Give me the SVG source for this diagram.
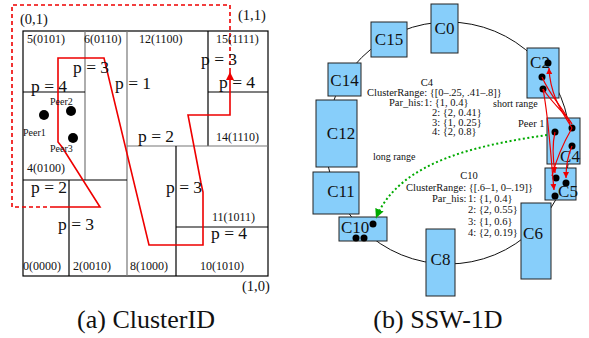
<svg xmlns="http://www.w3.org/2000/svg" width="589" height="338" viewBox="0 0 589 338">
<style>
text{font-family:"Liberation Serif","Times New Roman",serif;fill:#111}
.cell{font-size:12px}
.p{font-size:17.5px}
.peer{font-size:10px}
.coord{font-size:14.5px}
.gk{stroke:#000;stroke-width:1.2;fill:none}
.gg{stroke:#777;stroke-width:1.2;fill:none}
.box{fill:#87cefa;stroke:#222;stroke-width:1}
.lbl{font-size:17px;text-anchor:middle}
.sm{font-size:10.5px}
.ring{fill:none;stroke:#111;stroke-width:1}
.rc{fill:none;stroke:#e00;stroke-width:1.2}
.dot{fill:#000}
.cap{font-size:26px;text-anchor:middle}
</style>
<defs>
<marker id="ar" viewBox="0 0 8 8" refX="8" refY="4" markerWidth="8" markerHeight="8" markerUnits="userSpaceOnUse" orient="auto"><path d="M0,0 L8,4 L0,8 z" fill="#e00"/></marker>
<marker id="ars" viewBox="0 0 6 6" refX="6" refY="3" markerWidth="6" markerHeight="6" markerUnits="userSpaceOnUse" orient="auto"><path d="M0,0 L6,3 L0,6 z" fill="#e00"/></marker>
<marker id="ag" viewBox="0 0 8 8" refX="8" refY="4" markerWidth="9" markerHeight="9" markerUnits="userSpaceOnUse" orient="auto"><path d="M0,0 L8,4 L0,8 z" fill="#0a0"/></marker>
</defs>

<!-- (a) ClusterID -->
<g id="panel-a">
<g id="grid">
<rect x="23" y="31" width="245" height="245" class="gk"/>
<line x1="85" y1="31" x2="85" y2="180" class="gg"/>
<line x1="127" y1="31" x2="127" y2="276" class="gg"/>
<line x1="23" y1="92" x2="85" y2="92" class="gk"/>
<line x1="23" y1="180" x2="127" y2="180" class="gk"/>
<line x1="69" y1="180" x2="69" y2="276" class="gk"/>
<line x1="208" y1="31" x2="208" y2="146" class="gk"/>
<line x1="208" y1="92" x2="268" y2="92" class="gk"/>
<line x1="127" y1="146" x2="268" y2="146" class="gg"/>
<line x1="176" y1="146" x2="176" y2="276" class="gk"/>
<line x1="176" y1="227" x2="268" y2="227" class="gk"/>
</g>
<g id="route">
<path d="M230,72 V5 H12 V207 H50" fill="none" stroke="#e00" stroke-width="1.6" stroke-dasharray="4,3"/>
<path d="M50,207 H100 L62,147 L58,142 V58 H104 L149,245 H203 V192 L201,183 L188,115 H230 V72" fill="none" stroke="#e00" stroke-width="1.6" marker-end="url(#ar)"/>
</g>
<g id="cells">
<text x="20" y="24" class="coord">(0,1)</text>
<text x="238" y="20" class="coord">(1,1)</text>
<text x="242" y="291" class="coord">(1,0)</text>
<text x="27" y="43" class="cell">5(0101)</text>
<text x="84" y="43" class="cell">6(0110)</text>
<text x="139" y="43" class="cell">12(1100)</text>
<text x="216" y="43" class="cell">15(1111)</text>
<text x="216" y="141" class="cell">14(1110)</text>
<text x="27" y="172" class="cell">4(0100)</text>
<text x="23" y="270" class="cell">0(0000)</text>
<text x="73" y="270" class="cell">2(0010)</text>
<text x="130" y="270" class="cell">8(1000)</text>
<text x="200" y="270" class="cell">10(1010)</text>
<text x="212" y="221" class="cell">11(1011)</text>
<text x="73" y="73" class="p">p = 3</text>
<text x="115" y="89" class="p">p = 1</text>
<text x="31" y="92" class="p">p = 4</text>
<text x="201" y="65" class="p">p = 3</text>
<text x="219" y="88" class="p">p = 4</text>
<text x="138" y="142" class="p">p = 2</text>
<text x="31" y="193" class="p">p = 2</text>
<text x="58" y="230" class="p">p = 3</text>
<text x="166" y="193" class="p">p = 3</text>
<text x="211" y="239" class="p">p = 4</text>
</g>
<g id="peers">
<circle cx="44" cy="115" r="5" class="dot"/>
<circle cx="71" cy="111" r="5" class="dot"/>
<circle cx="73" cy="138" r="5" class="dot"/>
<text x="50" y="105" class="peer">Peer2</text>
<text x="23" y="136" class="peer">Peer1</text>
<text x="50" y="152" class="peer">Peer3</text>
</g>
</g>

<!-- (b) SSW-1D -->
<g id="connectors">
<ellipse cx="448" cy="143" rx="122" ry="121" class="ring"/>
</g>

<g id="C0"><rect x="431" y="4" width="27" height="49" class="box"/><text x="444.5" y="34" class="lbl">C0</text></g>
<g id="C15"><rect x="371" y="22" width="36" height="35" class="box"/><text x="389" y="45" class="lbl">C15</text></g>
<g id="C14"><rect x="328" y="63" width="33" height="33" class="box"/><text x="344.5" y="86" class="lbl">C14</text></g>
<g id="C12"><rect x="316" y="100" width="41" height="67" class="box"/><text x="341" y="139" class="lbl">C12</text></g>
<g id="C11"><rect x="313" y="172" width="46" height="42" class="box"/><text x="341" y="197" class="lbl">C11</text></g>
<g id="C10"><rect x="339" y="217" width="48" height="24" class="box"/><text x="341" y="233" class="lbl" style="text-anchor:start">C10</text>
<circle cx="373" cy="224" r="3.5" class="dot"/><circle cx="356" cy="238" r="3.5" class="dot"/><circle cx="364" cy="238" r="3.5" class="dot"/></g>
<g id="C8"><rect x="426" y="229" width="29" height="67" class="box"/><text x="440.5" y="265" class="lbl">C8</text></g>
<g id="C6"><rect x="521" y="203" width="30" height="76" class="box"/><text x="533" y="239" class="lbl">C6</text></g>
<g id="C5"><rect x="545" y="168" width="31" height="32" class="box"/><text x="568" y="197" class="lbl">C5</text>
<circle cx="556" cy="178" r="3.5" class="dot"/><circle cx="566" cy="183" r="3.5" class="dot"/><circle cx="555" cy="196" r="3.5" class="dot"/></g>
<g id="C4"><rect x="547" y="118" width="33" height="46" class="box"/><text x="570" y="162" class="lbl">C4</text>
<circle cx="555" cy="132" r="3.5" class="dot"/><circle cx="572" cy="128" r="3.5" class="dot"/><circle cx="572" cy="146" r="3.5" class="dot"/></g>
<g id="C2"><rect x="527" y="48" width="32" height="50" class="box"/><text x="540" y="68" class="lbl">C2</text>
<circle cx="548" cy="63" r="3.5" class="dot"/><circle cx="542" cy="77" r="3.5" class="dot"/><circle cx="543" cy="89" r="3.5" class="dot"/></g>

<g id="links">
<path d="M543,89 C549,120 551,160 554,190" class="rc" marker-end="url(#ars)"/>
<path d="M542,77 C552,100 566,110 570,124" class="rc"/>
<path d="M543,89 C556,108 568,116 572,124" class="rc"/>
<path d="M572,128 C562,112 550,95 549,68" class="rc" marker-end="url(#ars)"/>
<path d="M555,132 C552,145 553,160 555,173" class="rc" marker-end="url(#ars)"/>
<path d="M572,128 C564,142 556,160 552,176" class="rc"/>
<path d="M572,146 C568,155 566,165 566,178" class="rc" marker-end="url(#ars)"/>
<path d="M547,135 C480,145 400,160 376,218" fill="none" stroke="#0a0" stroke-width="2" stroke-dasharray="2,2.5" marker-end="url(#ag)"/>
</g>

<g id="labels">
<text x="493" y="107" class="sm" style="font-size:10px">short range</text>
<text x="518" y="127" class="sm">Peer 1</text>
<text x="373" y="160" class="sm" style="font-size:10px">long range</text>
<text x="427" y="86" class="sm" text-anchor="middle">C4</text>
<text x="367" y="96" class="sm">ClusterRange: {[0–.25, .41–.8]}</text>
<text x="389" y="106" class="sm">Par_his:</text>
<text x="424" y="106" class="sm">1: {1, 0.4}</text>
<text x="432" y="115.5" class="sm">2: {2, 0.41}</text>
<text x="432" y="125.5" class="sm">3: {1, 0.25}</text>
<text x="432" y="135" class="sm">4: {2, 0.8}</text>
<text x="469" y="179" class="sm" text-anchor="middle">C10</text>
<text x="406" y="191" class="sm">ClusterRange: {[.6–1, 0–.19]}</text>
<text x="432" y="202" class="sm">Par_his:</text>
<text x="468" y="202" class="sm">1: {1, 0.4}</text>
<text x="468" y="213" class="sm">2: {2, 0.55}</text>
<text x="468" y="224.5" class="sm">3: {1, 0.6}</text>
<text x="468" y="236" class="sm">4: {2, 0.19}</text>
</g>

<g id="captions">
<text x="146" y="328" class="cap">(a) ClusterID</text>
<text x="438" y="328" class="cap">(b) SSW-1D</text>
</g>
</svg>
